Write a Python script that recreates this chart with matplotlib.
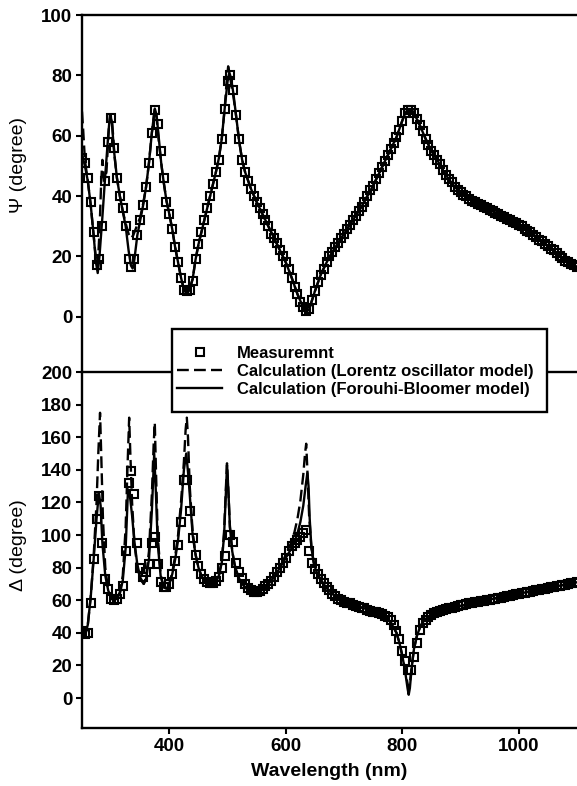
import numpy as np
import matplotlib.pyplot as plt
from matplotlib.lines import Line2D
from matplotlib.patches import Rectangle

# measured ellipsometry data, 5 nm steps from 250 to 1100 nm
wl_meas = np.arange(250, 1101, 5)

psi_meas = [
    52.5, 51, 46, 38, 28, 17, 19, 30, 45, 58,
    66, 56, 46, 40, 36, 30, 19, 16.5, 19, 27,
    32, 37, 43, 51, 61, 68.5, 64, 55, 46, 38,
    34, 29, 23, 18, 13, 9, 8.5, 9, 12, 19,
    24, 28, 32, 36, 40, 44, 48, 52, 59, 69,
    78, 80, 75, 67, 59, 52, 48, 45, 42.5, 40,
    38, 36, 34, 32, 30, 27.5, 26, 24.5, 22, 20,
    18, 16, 13, 10, 7.5, 5, 3.3, 2, 2.5, 5.5,
    8.5, 11.5, 14, 16, 18, 20, 21.5, 23, 24.5, 26,
    27.5, 29, 30.5, 32, 33.5, 35, 36.5, 38, 40, 42,
    43.5, 45.5, 47.5, 49.5, 51.5, 53.5, 55.5, 57.5, 59.5, 62,
    65, 67.5, 68.5, 68.5, 67.5, 65.5, 63.5, 61.5, 59, 57,
    55, 53.5, 52, 50.5, 48.5, 47, 45.5, 44.5, 43, 42,
    41.5, 40.5, 40, 39, 38.5, 38, 37.5, 37, 36.5, 36,
    35.5, 35, 34.5, 34, 33.5, 33, 32.5, 32, 31.5, 31,
    30.5, 30, 29, 28.5, 28, 27, 26.5, 25.5, 25, 24,
    23.5, 22.5, 22, 21, 20, 19.5, 18.5, 18, 17.5, 17,
    16.5,
]

delta_meas = [
    41, 39, 40, 58, 85, 110, 124, 95, 73, 67,
    61, 60, 61, 64, 69, 90, 132, 139, 125, 95,
    80, 74, 77, 82, 95, 99, 82, 71, 68, 68,
    70, 76, 84, 94, 108, 134, 134, 115, 98, 88,
    81, 76, 73, 71, 70.5, 70.5, 72, 74.5, 80, 87,
    100, 100, 96, 83, 77, 73.5, 70, 67.5, 66, 65,
    65, 65.5, 67, 68.5, 70, 72, 74, 77, 80, 83,
    86, 90, 93, 95, 97, 99, 101, 103, 90, 83,
    79, 76, 73, 70.5, 68, 66, 64, 62.5, 61, 60,
    59, 58.5, 58, 57, 56.5, 56, 55.5, 55, 54, 53.5,
    53, 52.5, 52, 51.5, 50.5, 50, 48, 45, 41, 36,
    29, 23, 17, 17, 25, 34, 42, 46, 48, 50,
    51, 52, 53, 53.5, 54, 54.5, 55, 55.5, 56, 56.5,
    57, 57.3, 57.6, 58, 58.3, 58.6, 59, 59.3, 59.6, 60,
    60.3, 60.6, 61, 61.3, 61.6, 62, 62.4, 62.8, 63.2, 63.6,
    64, 64.3, 64.6, 65, 65.3, 65.6, 66, 66.3, 66.7, 67,
    67.4, 67.8, 68.2, 68.5, 68.9, 69.3, 69.6, 70, 70.4, 70.7,
    71,
]

# Forouhi-Bloomer fit (solid)
psi_fb_wl = [250, 255, 260, 265, 270, 274, 277, 280, 285, 290, 295, 298, 301, 305,
             310, 315, 320, 325, 330, 334, 337, 340, 345, 350, 355, 360, 365, 370,
             375, 378, 382, 386, 390, 395, 400, 405, 410, 415, 420, 425, 430, 435,
             440, 445, 450, 460, 470, 480, 485, 490, 495, 500, 503, 506, 510, 515,
             520, 525, 530, 540, 550, 560, 570, 580, 590, 600, 610, 620, 630, 635,
             640, 650, 660, 670, 680, 690, 700, 710, 720, 730, 740, 750, 760, 770,
             780, 790, 800, 805, 810, 815, 820, 830, 840, 850, 860, 870, 880, 890,
             900, 920, 940, 960, 980, 1000, 1020, 1040, 1060, 1080, 1100]
psi_fb = [54, 50, 45, 37, 27, 18, 14.5, 20, 33, 47, 60, 67, 65, 55,
          46, 40, 35, 30, 22, 17, 16, 19, 27, 32, 37, 43, 51, 61,
          69, 67, 59, 51, 45, 38.5, 34, 29, 23, 18, 13, 9, 7.5, 9,
          12.5, 19, 24, 32, 40, 48, 52.5, 59, 69, 78, 81, 79, 74, 66,
          58, 52, 48, 42.5, 38, 34, 30, 26, 22, 18, 13, 7.5, 3, 1.5,
          2.5, 8.5, 14, 18, 21.5, 24.5, 27.5, 30.5, 33.5, 36.5, 40, 43.5, 47.5, 51.5,
          55.5, 59.5, 65, 67.5, 68.8, 68.8, 67.5, 63.5, 59, 55, 52, 48.5, 45.5, 43,
          41.5, 38.5, 36.5, 34.5, 32.5, 30.5, 28, 25, 22, 18.5, 16.5]

# Lorentz oscillator fit (dashed)
psi_lo_wl = [250, 252, 255, 260, 265, 270, 274, 277, 280, 283, 285, 288, 292, 296,
             299, 302, 306, 310, 315, 320, 325, 330, 334, 338, 342, 346, 350, 355,
             360, 365, 370, 375, 378, 382, 386, 390, 395, 400, 405, 410, 415, 420,
             425, 430, 435, 440, 445, 450, 460, 470, 480, 485, 490, 495, 498, 501,
             504, 507, 510, 515, 520, 525, 530, 540, 550, 560, 570, 580, 590, 600,
             610, 620, 630, 635, 640, 650, 660, 670, 680, 690, 700, 710, 720, 730,
             740, 750, 760, 770, 780, 790, 800, 805, 810, 815, 820, 830, 840, 850,
             860, 870, 880, 890, 900, 920, 940, 960, 980, 1000, 1020, 1040, 1060,
             1080, 1100]
psi_lo = [68, 62, 52, 45, 37, 27, 19, 17, 28, 45, 52, 45, 48, 62,
          67, 64, 53, 46, 40, 35, 31, 27.5, 26, 27, 29, 31, 33, 37.5,
          43, 51, 61, 69, 66, 58, 51, 45, 38.5, 34, 29, 23, 18, 13,
          9, 8, 9.5, 12.5, 19, 24, 32, 40, 48, 52.5, 59, 69, 77, 83,
          80, 76, 73, 66, 58, 52, 48, 42.5, 38, 34, 30, 26, 22, 18,
          13, 7.5, 3, 1.5, 2.5, 8.5, 14, 18, 21.5, 24.5, 27.5, 30.5, 33.5, 36.5,
          40, 43.5, 47.5, 51.5, 55.5, 59.5, 65, 67.5, 68.8, 68.8, 67.5, 63.5, 59, 55,
          52, 48.5, 45.5, 43, 41.5, 38.5, 36.5, 34.5, 32.5, 30.5, 28, 25, 22,
          18.5, 16.5]

delta_fb_wl = [250, 255, 260, 265, 270, 275, 279, 282, 285, 290, 295, 300, 305, 310,
               315, 320, 325, 329, 332, 336, 340, 345, 350, 356, 360, 365, 370, 374,
               377, 380, 385, 390, 395, 400, 405, 410, 415, 420, 425, 429, 433, 437,
               440, 445, 450, 455, 460, 465, 470, 475, 480, 485, 490, 494, 497, 499,
               501, 504, 508, 512, 516, 520, 525, 530, 535, 540, 545, 550, 555, 560,
               565, 570, 575, 580, 585, 590, 595, 600, 605, 610, 615, 620, 625, 630,
               634, 637, 639, 641, 644, 648, 652, 656, 660, 670, 680, 690, 700, 720,
               740, 760, 770, 780, 790, 795, 800, 805, 809, 811, 813, 816, 820, 825,
               830, 835, 840, 850, 860, 880, 900, 950, 1000, 1050, 1100]
delta_fb = [40, 38, 45, 62, 85, 110, 126, 118, 95, 75, 66, 61, 60, 61,
            64, 72, 92, 128, 125, 112, 96, 82, 74, 70, 73, 85, 115, 150,
            125, 95, 75, 68, 67, 70, 76, 85, 97, 115, 140, 150, 135, 115,
            100, 88, 80, 75, 72, 70, 69, 69.5, 71, 75, 83, 100, 125, 143,
            130, 105, 90, 82, 77, 73, 70, 68, 66.5, 65.5, 65, 65, 65.5, 66.5,
            68, 70, 72, 74.5, 77, 80, 83, 86, 89, 92, 96, 101, 108, 118,
            130, 138, 130, 110, 92, 83, 78, 75, 72.5, 67.5, 64, 61, 59, 56.5,
            54.5, 52, 50, 46.5, 40, 34, 26, 16, 6, 2, 6, 18, 30, 38,
            43, 46.5, 48.5, 51, 52.5, 54.5, 56.5, 60.5, 64, 67.5, 71]

delta_lo_wl = [250, 255, 260, 265, 270, 275, 278, 281, 283, 286, 290, 295, 300, 305,
               310, 315, 320, 325, 328, 331, 333, 336, 340, 345, 350, 356, 360, 365,
               370, 373, 375, 377, 380, 385, 390, 395, 400, 405, 410, 415, 420, 425,
               428, 430, 432, 435, 440, 445, 450, 455, 460, 465, 470, 475, 480, 485,
               490, 494, 497, 499, 501, 504, 508, 512, 516, 520, 525, 530, 535, 540,
               545, 550, 555, 560, 565, 570, 575, 580, 585, 590, 595, 600, 605, 610,
               615, 620, 625, 630, 633, 635, 637, 640, 644, 648, 652, 656, 660, 670,
               680, 690, 700, 720, 740, 760, 770, 780, 790, 795, 800, 805, 809, 811,
               813, 816, 820, 825, 830, 835, 840, 850, 860, 880, 900, 950, 1000, 1050,
               1100]
delta_lo = [40, 38, 45, 62, 87, 120, 150, 175, 150, 110, 80, 66, 61, 60,
            61, 65, 75, 105, 140, 172, 150, 120, 95, 80, 73, 70, 74, 90,
            125, 155, 169, 140, 100, 76, 68, 67, 70, 77, 87, 100, 120, 145,
            165, 172, 160, 130, 102, 88, 80, 75, 72, 70, 69, 69.5, 71, 75,
            84, 102, 128, 144, 130, 105, 90, 82, 77, 73, 70, 68, 66.5, 65.5,
            65, 65, 65.5, 66.5, 68, 70, 72, 74.5, 77, 80, 84, 88, 92, 96,
            102, 110, 121, 137, 150, 156, 140, 112, 92, 83, 78, 75, 72.5, 67.5,
            64, 61, 59, 56.5, 54.5, 52, 50, 46.5, 40, 34, 26, 17, 9, 6,
            9, 19, 30, 38, 43, 46.5, 48.5, 51, 52.5, 54.5, 56.5, 60.5, 64, 67.5,
            71]

plt.rcParams['font.family'] = ['Liberation Sans', 'DejaVu Sans']
plt.rcParams['font.weight'] = 'bold'

fig = plt.figure(figsize=(5.77, 7.86), dpi=100)
ax1 = fig.add_axes([0.1421, 0.5267, 0.8579, 0.4542])
ax2 = fig.add_axes([0.1421, 0.0738, 0.8579, 0.4529])

mk = dict(ls='none', marker='s', ms=6.3, mfc='none', mec='black', mew=1.5)
lo_style = dict(color='black', lw=1.7, ls=(0, (5, 2.2)))
fb_style = dict(color='black', lw=1.7, ls='-')

ax1.plot(psi_lo_wl, psi_lo, **lo_style)
ax1.plot(psi_fb_wl, psi_fb, **fb_style)
ax1.plot(wl_meas, psi_meas, **mk)

ax2.plot(delta_lo_wl, delta_lo, **lo_style)
ax2.plot(delta_fb_wl, delta_fb, **fb_style)
ax2.plot(wl_meas, delta_meas, **mk)

for ax in (ax1, ax2):
    ax.set_xlim(250, 1100)
    ax.spines['right'].set_visible(False)
    for s in ('left', 'top', 'bottom'):
        ax.spines[s].set_linewidth(1.7)
    ax.tick_params(direction='out', length=4, width=1.5, labelsize=13.5, pad=3)

ax1.set_ylim(-18.3, 100)
ax1.set_yticks(range(0, 101, 20))
ax1.spines['bottom'].set_visible(False)
ax1.set_xticks([])
ax1.set_ylabel('Ψ (degree)', fontsize=14, fontweight='normal')
ax1.yaxis.set_label_coords(-0.112, 0.58)

ax2.set_ylim(-18.4, 200)
ax2.set_yticks(range(0, 201, 20))
ax2.set_xticks([400, 600, 800, 1000])
ax2.set_ylabel('Δ (degree)', fontsize=14, fontweight='normal')
ax2.yaxis.set_label_coords(-0.112, 0.515)
ax2.set_xlabel('Wavelength (nm)', fontsize=14, fontweight='bold', labelpad=6)

# legend box (drawn separately: tall padding above/below, tight at the sides)
fig.add_artist(Rectangle((0.2981, 0.4758), 0.65, 0.1056, transform=fig.transFigure,
                         facecolor='white', edgecolor='black', lw=1.7, zorder=4))

handles = [
    Line2D([], [], **mk),
    Line2D([], [], **lo_style),
    Line2D([], [], **fb_style),
]
labels = ['Measuremnt',
          'Calculation (Lorentz oscillator model)',
          'Calculation (Forouhi-Bloomer model)']
leg = fig.legend(handles, labels, loc='upper left', bbox_to_anchor=(0.3068, 0.5604),
                 fontsize=12, numpoints=1, handlelength=2.7, handletextpad=0.9,
                 labelspacing=0.2, borderpad=0, borderaxespad=0, frameon=False)
leg.set_zorder(5)
leg.legend_handles[0].set_markersize(5.5)

fig.savefig('out.png', dpi=100)
